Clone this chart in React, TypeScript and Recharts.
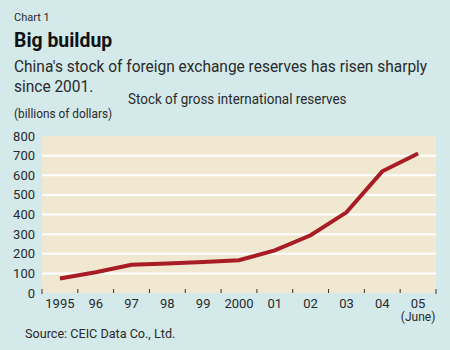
import React from "react";
import { LineChart, Line, XAxis, YAxis, ReferenceArea, ReferenceLine } from "recharts";

// ── Data ──────────────────────────────────────────────────────────────────────
const yearLabels = ["1995", "96", "97", "98", "99", "2000", "01", "02", "03", "04", "05"];
const reserves = [74, 106, 144, 150, 158, 167, 217, 294, 411, 620, 711];
const yTicks = [0, 100, 200, 300, 400, 500, 600, 700, 800];
const gridValues = [100, 200, 300, 400, 500, 600, 700];

// ── Style ─────────────────────────────────────────────────────────────────────
const BG = "#D3E9EA";
const PLOT_BG = "#F1E8D2";
const LINE_COLOR = "#A81C26";
const TEXT = "#2A2A2A";
const FONT = "Roboto, 'Liberation Sans', sans-serif";

// each year sits in the middle of its band; band edges carry the tick marks
const rows = reserves.map((v, i) => ({ pos: i + 0.5, value: v, label: yearLabels[i] }));
const xTicks = [
  ...yearLabels.map((_, i) => i),
  yearLabels.length,
  ...yearLabels.map((_, i) => i + 0.5),
];

function XTick(props: { x?: number; y?: number; payload?: { value: number } }) {
  const { x = 0, y = 0, payload } = props;
  const v = payload?.value ?? 0;
  if (Number.isInteger(v)) {
    const edge = v === 0 || v === yearLabels.length;
    return <line x1={x} x2={x} y1={y - 4} y2={y + (edge ? 1 : 0)} stroke="#333" strokeWidth={1} />;
  }
  const label = yearLabels[Math.floor(v)];
  const last = Math.floor(v) === yearLabels.length - 1;
  return (
    <g>
      <text x={x} y={y + 15} textAnchor="middle" fontSize={13} fill={TEXT} fontFamily={FONT}>
        {label}
      </text>
      {last && (
        <text x={x} y={y + 28} textAnchor="middle" fontSize={12} fill={TEXT} fontFamily={FONT}>
          (June)
        </text>
      )}
    </g>
  );
}

// header / footer text, squeezed a little to mimic the narrow original face
const txt = (top: number, left: number, size: number, sx = 1, extra: React.CSSProperties = {}) => ({
  position: "absolute" as const,
  top,
  left,
  fontSize: size,
  fontFamily: FONT,
  color: TEXT,
  lineHeight: 1,
  whiteSpace: "nowrap" as const,
  transform: `scaleX(${sx})`,
  transformOrigin: "left top",
  ...extra,
});

export default function App() {
  return (
    <div style={{ position: "fixed", left: 0, top: 0, width: 450, height: 350, background: BG, overflow: "hidden" }}>
      <div style={txt(12, 14, 11)}>Chart 1</div>
      <div style={txt(30, 14, 20, 0.97, { fontWeight: "bold", color: "#111" })}>Big buildup</div>
      <div style={txt(58, 14, 17, 0.91)}>China's stock of foreign exchange reserves has risen sharply</div>
      <div style={txt(78, 14, 17, 0.91)}>since 2001.</div>
      <div style={txt(92, 128, 14, 0.96)}>Stock of gross international reserves</div>
      <div style={txt(107, 14, 13, 0.91)}>(billions of dollars)</div>
      <div style={txt(327, 25, 13, 0.97)}>Source: CEIC Data Co., Ltd.</div>

      <div style={{ position: "absolute", left: 0, top: 0 }}>
        <LineChart
          width={450}
          height={350}
          data={rows}
          margin={{ top: 136, right: 14, bottom: 0, left: 0 }}
        >
          <XAxis
            dataKey="pos"
            type="number"
            domain={[0, yearLabels.length]}
            ticks={xTicks}
            interval={0}
            tick={<XTick />}
            tickLine={false}
            axisLine={false}
            tickSize={0}
            tickMargin={0}
            height={57}
            allowDataOverflow
          />
          <YAxis
            domain={[0, 800]}
            ticks={yTicks}
            interval={0}
            width={42}
            tickSize={0}
            tickMargin={7}
            axisLine={false}
            tickLine={false}
            tick={{ fontSize: 13, fill: TEXT, fontFamily: FONT }}
          />
          <ReferenceArea x1={0} x2={yearLabels.length} y1={0} y2={800} fill={PLOT_BG} fillOpacity={1} strokeOpacity={0} />
          {gridValues.map((g) => (
            <ReferenceLine key={g} y={g} stroke="#FFFFFF" strokeWidth={2} />
          ))}
          <Line
            dataKey="value"
            type="linear"
            stroke={LINE_COLOR}
            strokeWidth={4}
            dot={false}
            activeDot={false}
            isAnimationActive={false}
          />
        </LineChart>
      </div>
    </div>
  );
}
